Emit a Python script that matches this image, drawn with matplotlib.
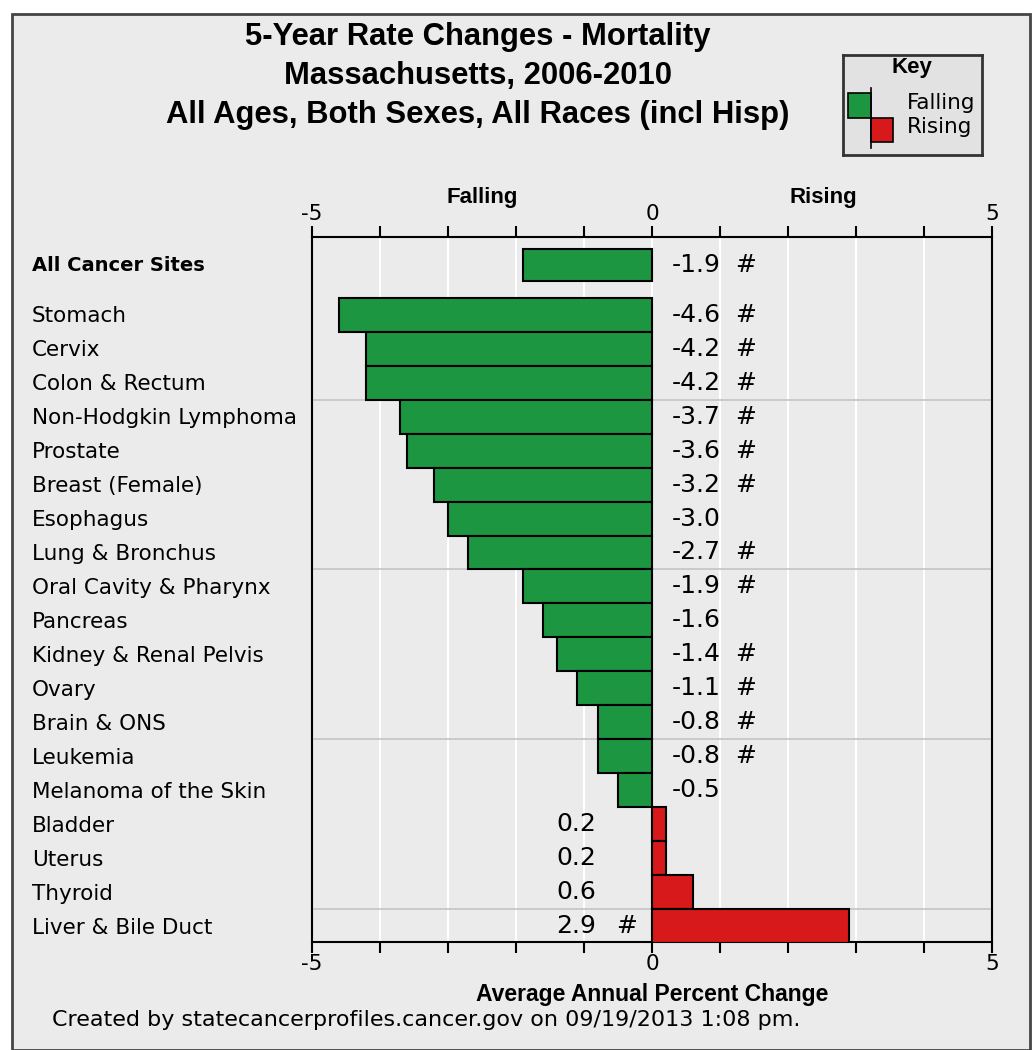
import numpy as np
import matplotlib.pyplot as plt
from matplotlib.transforms import blended_transform_factory
from matplotlib.patches import Rectangle

sites = ["Stomach", "Cervix", "Colon & Rectum", "Non-Hodgkin Lymphoma",
         "Prostate", "Breast (Female)", "Esophagus", "Lung & Bronchus",
         "Oral Cavity & Pharynx", "Pancreas", "Kidney & Renal Pelvis",
         "Ovary", "Brain & ONS", "Leukemia", "Melanoma of the Skin",
         "Bladder", "Uterus", "Thyroid", "Liver & Bile Duct"]
apc = [-4.6, -4.2, -4.2, -3.7, -3.6, -3.2, -3.0, -2.7, -1.9, -1.6, -1.4,
       -1.1, -0.8, -0.8, -0.5, 0.2, 0.2, 0.6, 2.9]
signif = [True, True, True, True, True, True, False, True, True, False, True,
          True, True, True, False, False, False, False, True]
all_sites_label = "All Cancer Sites"
all_sites_apc = -1.9
all_sites_signif = True
titles = ["5-Year Rate Changes - Mortality", "Massachusetts, 2006-2010",
          "All Ages, Both Sexes, All Races (incl Hisp)"]

GREEN = '#1d9641'
RED = '#d7191c'
BG = '#ebebeb'
fontsize = 15.5
valsize = 18

fig = plt.figure(figsize=(10.35, 10.5), dpi=100, facecolor='white')
# outer gray panel
fig.patches.append(Rectangle((12/1035, 0), 1 - 17/1035, 1 - 14/1050,
                             transform=fig.transFigure, facecolor=BG,
                             edgecolor='#444444', linewidth=2, zorder=-10))

ax = fig.add_axes([312/1035, 1 - 942/1050, 680/1035, 705/1050])
ax.set_facecolor(BG)

ypos = np.arange(len(sites))
y_all = -1.47
cols = [GREEN if v < 0 else RED for v in apc]
ax.barh(ypos, apc, height=1.0, color=cols, edgecolor='black', linewidth=1.5, zorder=3)
ax.barh([y_all], [all_sites_apc], height=0.95, color=GREEN, edgecolor='black',
        linewidth=1.5, zorder=3)

ax.set_xlim(-5, 5)
ax.set_ylim(18.47, -2.29)
ax.set_xticks(range(-5, 6))
ax.set_xticklabels(['-5', '', '', '', '', '0', '', '', '', '', '5'], fontsize=fontsize)
ax.tick_params(axis='x', top=True, labeltop=True, direction='out', length=8,
               width=1.5, pad=1, colors='black')
ax.set_yticks([])
for sp in ax.spines.values():
    sp.set_linewidth(1.5)
for x in range(-4, 5):
    ax.axvline(x, color='white', linewidth=1.5, zorder=1)
for yb in [2.5, 7.5, 12.5, 17.5]:
    ax.axhline(yb, color='#c4c4c4', linewidth=1.2, zorder=1)

tr = blended_transform_factory(fig.transFigure, ax.transData)
ax.text(32/1035, y_all + 0.03, all_sites_label, transform=tr, fontsize=14,
        fontweight='bold', va='center', ha='left')
for y, s in zip(ypos, sites):
    ax.text(32/1035, y + 0.05, s, transform=tr, fontsize=fontsize, va='center', ha='left')


def value_label(y, v, sig):
    if v < 0:
        ax.text(0.29, y, '%.1f' % v, fontsize=valsize, va='center', ha='left', zorder=4)
        if sig:
            ax.text(1.38, y, '#', fontsize=valsize, va='center', ha='center', zorder=4)
    else:
        ax.text(-0.82, y, '%.1f' % v, fontsize=valsize, va='center', ha='right', zorder=4)
        if sig:
            ax.text(-0.38, y, '#', fontsize=valsize, va='center', ha='center', zorder=4)


value_label(y_all, all_sites_apc, all_sites_signif)
for y, v, s in zip(ypos, apc, signif):
    value_label(y, v, s)

# headers above the axis
fig.text(482/1035, 1 - 197/1050, 'Falling', fontsize=16, fontweight='bold',
         family='Liberation Sans', ha='center', va='center')
fig.text(823/1035, 1 - 197/1050, 'Rising', fontsize=16, fontweight='bold',
         family='Liberation Sans', ha='center', va='center')

fig.text(652/1035, 1 - 995/1050, 'Average Annual Percent Change', fontsize=16.5,
         fontweight='bold', family='Liberation Sans', ha='center', va='center')

# title
for i, t in enumerate(titles):
    fig.text(478/1035, 1 - (37 + 39*i)/1050, t, fontsize=22.3, fontweight='bold',
             family='Liberation Sans', ha='center', va='center')

# key box
kax = fig.add_axes([843/1035, 1 - 155/1050, 139/1035, 100/1050])
kax.set_xlim(0, 139)
kax.set_ylim(100, 0)
kax.set_facecolor('#e2e2e2')
kax.set_xticks([])
kax.set_yticks([])
for sp in kax.spines.values():
    sp.set_linewidth(2)
    sp.set_color('#333333')
kax.text(69, 13, 'Key', fontsize=16, fontweight='bold', ha='center', va='center',
         family='Liberation Sans')
kax.add_patch(Rectangle((5, 38), 23, 25, facecolor=GREEN, edgecolor='black', linewidth=1.2))
kax.add_patch(Rectangle((28, 63), 22, 24, facecolor=RED, edgecolor='black', linewidth=1.2))
kax.plot([28, 28], [33, 93], color='black', linewidth=1.2)
kax.text(64, 48, 'Falling', fontsize=15.5, va='center', ha='left')
kax.text(64, 72, 'Rising', fontsize=15.5, va='center', ha='left')

fig.text(52/1035, 1 - 1020/1050, 'Created by statecancerprofiles.cancer.gov on 09/19/2013 1:08 pm.',
         fontsize=16, ha='left', va='center')

plt.savefig('out.png', dpi=100, facecolor=fig.get_facecolor())
